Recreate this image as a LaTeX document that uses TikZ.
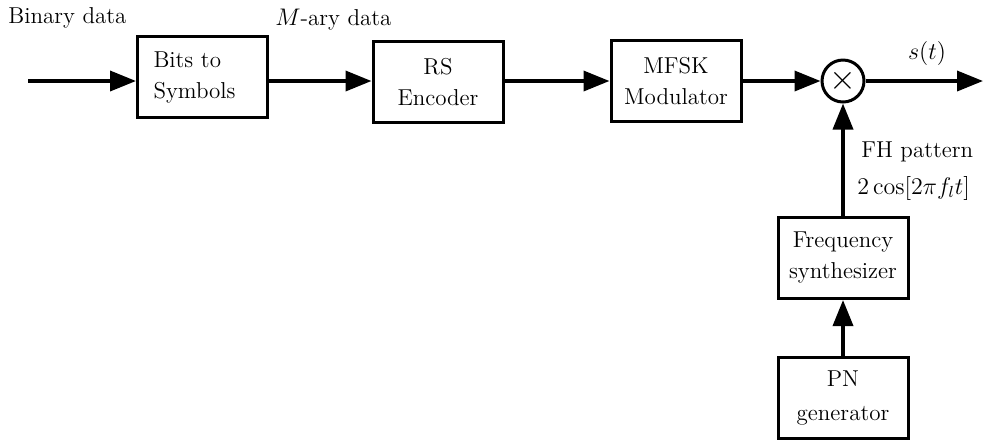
\documentclass[tikz,border=0pt]{standalone}
\usetikzlibrary{arrows.meta}
\begin{document}
\begin{tikzpicture}[x=0.5pt,y=-0.5pt,
  every node/.style={font=\fontsize{11.5}{15.5}\selectfont},
  blk/.style={draw, line width=1.5pt, minimum width=65pt, minimum height=40.5pt, inner sep=0pt, align=center},
  conn/.style={line width=1.8pt, -{Triangle[length=13pt,width=10pt]}},
  lbl/.style={inner sep=0pt}]
\useasboundingbox (0,0) rectangle (983,441);
\node[blk, align=left, text width=49pt, inner xsep=8pt] (b1) at (202.5,77) {Bits to\\Symbols};
\node[blk] (b2) at (438,82) {RS\\Encoder};
\node[blk] (b3) at (676,81) {MFSK\\Modulator};
\node[draw, circle, line width=1.5pt, minimum size=21pt, inner sep=0pt, font=\fontsize{16}{16}\selectfont] (mul) at (843,81) {$\times$};
\node[blk] (fs) at (843,258) {Frequency\\synthesizer};
\node[blk, font=\fontsize{11.5}{17}\selectfont] (pn) at (843,398) {PN\\generator};
\coordinate (in) at (28,81);
\coordinate (out) at (983,81);
\node[lbl, anchor=west] (bd) at (8,18) {Binary data};
\node[lbl, anchor=west] (md) at (275,20) {$M$-ary data};
\node[lbl] (st) at (927,53) {$s(t)$};
\node[lbl, anchor=west] (fh) at (861,152) {FH pattern};
\node[lbl, anchor=west] (cs) at (857,188) {$2\cos[2\pi f_l t]$};
\draw[conn] (in) -- (b1.west |- in);
\draw[conn] (b1.east |- in) -- (b2.west |- in);
\draw[conn] (b2.east |- in) -- (b3.west |- in);
\draw[conn] (b3.east |- in) -- (mul.west);
\draw[conn] (mul.east) -- (out);
\draw[conn] (fs.north) -- (mul.south);
\draw[conn] (pn.north) -- (fs.south);
\end{tikzpicture}
\end{document}
